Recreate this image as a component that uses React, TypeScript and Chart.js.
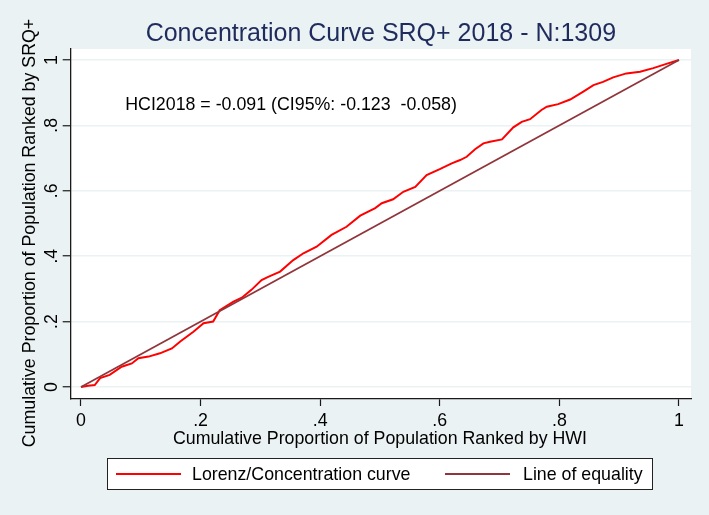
import React, { useEffect, useRef } from "react";
import { Chart, registerables } from "chart.js";

Chart.register(...registerables);

// ---- data ----
const lorenzX = [
  0, 0.012, 0.023, 0.032, 0.048, 0.068, 0.085, 0.096, 0.113, 0.132, 0.152, 0.166,
  0.188, 0.205, 0.221, 0.232, 0.255, 0.269, 0.285, 0.302, 0.313, 0.333, 0.355,
  0.372, 0.394, 0.419, 0.444, 0.467, 0.492, 0.503, 0.522, 0.539, 0.559, 0.578,
  0.6, 0.62, 0.634, 0.645, 0.659, 0.673, 0.684, 0.704, 0.723, 0.737, 0.751, 0.77,
  0.779, 0.798, 0.818, 0.84, 0.857, 0.873, 0.89, 0.912, 0.935, 0.957, 0.979, 1,
];
const lorenzY = [
  0, 0.004, 0.006, 0.027, 0.037, 0.062, 0.072, 0.088, 0.093, 0.103, 0.118, 0.139,
  0.169, 0.195, 0.2, 0.235, 0.261, 0.273, 0.297, 0.327, 0.337, 0.353, 0.388,
  0.409, 0.429, 0.465, 0.49, 0.524, 0.547, 0.562, 0.574, 0.597, 0.612, 0.648,
  0.666, 0.684, 0.694, 0.704, 0.727, 0.745, 0.75, 0.757, 0.794, 0.811, 0.819, 0.847,
  0.857, 0.865, 0.879, 0.903, 0.923, 0.933, 0.947, 0.959, 0.964, 0.975, 0.988, 1,
];
const equalityX = [0, 1];
const equalityY = [0, 1];
const tickValues = [0, 0.2, 0.4, 0.6, 0.8, 1];
const tickLabels = ["0", ".2", ".4", ".6", ".8", "1"];
const seriesNames = ["Lorenz/Concentration curve", "Line of equality"];
const titleText = "Concentration Curve SRQ+ 2018 - N:1309";
const xTitleText = "Cumulative Proportion of Population Ranked by HWI";
const yTitleText = "Cumulative Proportion of Population Ranked by SRQ+";
const noteText = "HCI2018 = -0.091 (CI95%: -0.123  -0.058)";
const noteX = 0.074;
const noteY = 0.868;

// ---- styles ----
const FONT = '"Liberation Sans", Arial, Helvetica, sans-serif';
const BG = "#EAF2F3";
const RED = "#FF0000";
const MAROON = "#90353B";
const AXIS = "#1a1a1a";
const TITLE = "#1E2B5C";
const FS = 17.8;

const stataPlugin = {
  id: "stataLook",
  beforeDraw(chart: any) {
    const { ctx, chartArea: a, width, height } = chart;
    ctx.save();
    ctx.fillStyle = BG;
    ctx.fillRect(0, 0, width, height);
    ctx.fillStyle = "#FFFFFF";
    ctx.fillRect(a.left, a.top, a.right - a.left, a.bottom - a.top);
    ctx.restore();
  },
  afterDraw(chart: any) {
    const { ctx, chartArea: a, scales } = chart;
    const xs = scales.x;
    const ys = scales.y;
    const cap = (s: number) => s * 0.358;
    ctx.save();
    ctx.textBaseline = "alphabetic";

    // title
    ctx.fillStyle = TITLE;
    ctx.font = `25px ${FONT}`;
    ctx.textAlign = "center";
    const x0 = xs.getPixelForValue(0);
    const x1 = xs.getPixelForValue(1);
    ctx.fillText(titleText, (a.left + a.right) / 2, 32 + cap(25));

    ctx.fillStyle = "#000";
    ctx.font = `${FS}px ${FONT}`;
    // x tick labels
    tickValues.forEach((v, i) => {
      ctx.fillText(tickLabels[i], xs.getPixelForValue(v), 420 + cap(FS));
    });
    // y tick labels (rotated)
    tickValues.forEach((v, i) => {
      ctx.save();
      ctx.translate(50.5, ys.getPixelForValue(v));
      ctx.rotate(-Math.PI / 2);
      ctx.fillText(tickLabels[i], 0, cap(FS));
      ctx.restore();
    });
    // x title
    ctx.fillText(xTitleText, (x0 + x1) / 2, 438 + cap(FS));
    // y title
    ctx.save();
    ctx.translate(29, 233);
    ctx.rotate(-Math.PI / 2);
    ctx.fillText(yTitleText, 0, cap(FS));
    ctx.restore();

    // note
    ctx.textAlign = "left";
    ctx.fillText(noteText, xs.getPixelForValue(noteX), ys.getPixelForValue(noteY) + cap(FS));

    // legend
    const lx = 107, ly = 458, lw = 546, lh = 32;
    ctx.fillStyle = "#FFFFFF";
    ctx.fillRect(lx, ly, lw, lh);
    ctx.strokeStyle = "#222";
    ctx.lineWidth = 1;
    ctx.strokeRect(lx + 0.5, ly + 0.5, lw - 1, lh - 1);
    const midY = ly + lh / 2;
    const entries = [
      { color: RED, width: 2, x1: 116, x2: 181, tx: 192 },
      { color: MAROON, width: 2, x1: 445, x2: 510, tx: 523 },
    ];
    entries.forEach((e, i) => {
      ctx.strokeStyle = e.color;
      ctx.lineWidth = e.width;
      ctx.beginPath();
      ctx.moveTo(e.x1, midY);
      ctx.lineTo(e.x2, midY);
      ctx.stroke();
      ctx.fillStyle = "#000";
      ctx.fillText(seriesNames[i], e.tx, midY + cap(FS));
    });
    ctx.restore();
  },
};

export default function App() {
  const ref = useRef<HTMLCanvasElement>(null);
  useEffect(() => {
    document.body.style.margin = "0";
    const setTicks = (scale: any) => {
      scale.ticks = tickValues.map((v) => ({ value: v }));
    };
    const chart = new Chart(ref.current as HTMLCanvasElement, {
      type: "scatter",
      data: {
        datasets: [
          {
            label: seriesNames[0],
            data: lorenzX.map((x, i) => ({ x, y: lorenzY[i] })),
            showLine: true,
            borderColor: RED,
            backgroundColor: RED,
            borderWidth: 2,
            pointRadius: 0,
            fill: false,
            order: 2,
          },
          {
            label: seriesNames[1],
            data: equalityX.map((x, i) => ({ x, y: equalityY[i] })),
            showLine: true,
            borderColor: MAROON,
            backgroundColor: MAROON,
            borderWidth: 1.8,
            pointRadius: 0,
            fill: false,
            order: 1,
          },
        ],
      },
      options: {
        responsive: false,
        animation: false,
        events: [],
        layout: { padding: { top: 49, right: 18, left: 0, bottom: 0 } },
        plugins: {
          legend: { display: false },
          tooltip: { enabled: false },
          title: { display: false },
        },
        scales: {
          x: {
            type: "linear",
            min: -0.0172,
            max: 1.0201,
            afterBuildTicks: setTicks,
            afterFit: (s: any) => {
              s.height = 116;
            },
            ticks: { display: false },
            grid: {
              drawOnChartArea: false,
              drawTicks: true,
              tickLength: 7,
              tickColor: AXIS,
              tickWidth: 1.2,
            },
            border: { display: true, color: AXIS, width: 1.3 },
          },
          y: {
            type: "linear",
            min: -0.0367,
            max: 1.0336,
            afterBuildTicks: setTicks,
            afterFit: (s: any) => {
              s.width = 70.7;
            },
            ticks: { display: false },
            grid: {
              color: BG,
              lineWidth: 1.5,
              drawTicks: true,
              tickLength: 8,
              tickColor: AXIS,
              tickWidth: 1.2,
            },
            border: { display: true, color: AXIS, width: 1.3 },
          },
        },
      },
      plugins: [stataPlugin],
    } as any);
    return () => chart.destroy();
  }, []);
  return (
    <div style={{ width: 709, height: 515 }}>
      <canvas ref={ref} width={709} height={515} style={{ display: "block", width: 709, height: 515 }} />
    </div>
  );
}
